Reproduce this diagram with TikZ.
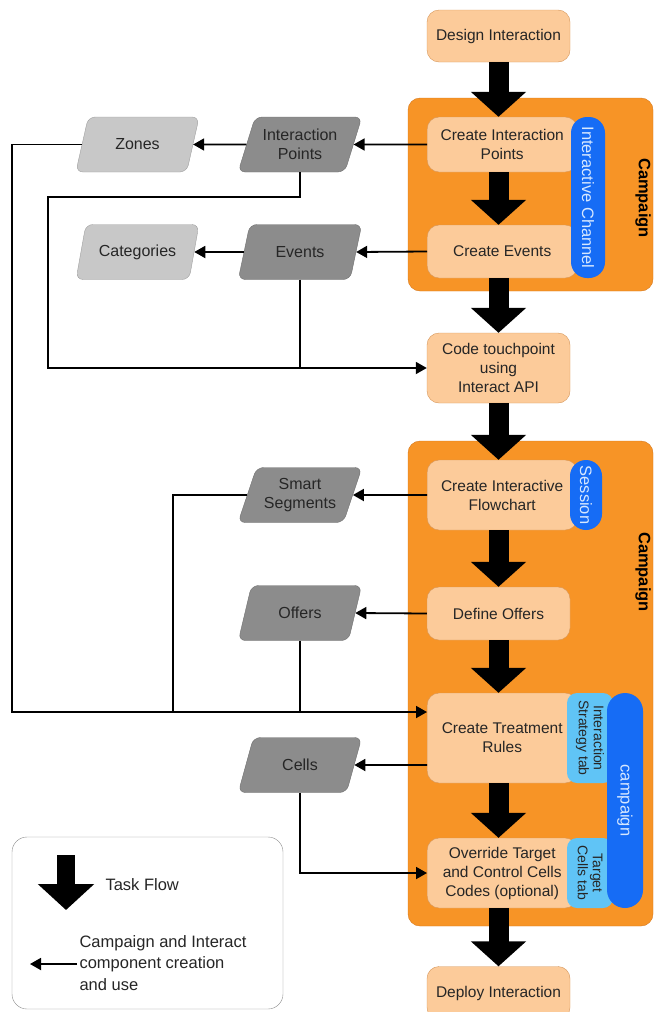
\documentclass[tikz,border=0pt]{standalone}
\usepackage{fontspec}
\setmainfont{Liberation Sans}
\usetikzlibrary{arrows.meta,shapes,positioning,calc}
\definecolor{camporange}{RGB}{247,148,38}
\definecolor{campedge}{RGB}{214,120,30}
\definecolor{peach}{RGB}{252,203,154}
\definecolor{peachedge}{RGB}{214,150,90}
\definecolor{chanblue}{RGB}{22,108,245}
\definecolor{tabblue}{RGB}{96,196,246}
\definecolor{darkgrey}{RGB}{140,140,140}
\definecolor{lightgrey}{RGB}{200,200,200}
\tikzset{
    task/.style={line width=20pt, -{Triangle[length=25pt, width=54pt]}, black},
    link/.style={-{Triangle[length=11pt, width=12pt]}, line width=1.8pt, black},
    wire/.style={line width=1.8pt, black},
    campbox/.style={draw=campedge, fill=camporange, rounded corners=12pt},
    camplabel/.style={font=\bfseries\fontsize{16.5pt}{19pt}\selectfont, rotate=-90},
    stage/.style={draw=peachedge, fill=peach, rounded corners=12pt, align=center,
        minimum width=143pt, text=black!85, font=\fontsize{15.5pt}{19pt}\selectfont},
    pill/.style={fill=chanblue, rounded corners=16pt, rotate=-90, inner sep=0pt,
        text={rgb,255:red,215;green,232;blue,255}, font=\fontsize{16.5pt}{19pt}\selectfont},
    tab/.style={fill=tabblue, rounded corners=10pt, rotate=-90, inner sep=0pt, align=center,
        text=black!85, font=\fontsize{14pt}{15pt}\selectfont},
    comp/.style={trapezium, trapezium left angle=66, trapezium right angle=114,
        trapezium stretches=true, minimum width=124pt, minimum height=55pt, inner sep=1pt,
        rounded corners=7pt, fill=darkgrey, draw=darkgrey!80!black, align=center,
        text=black!85, font=\fontsize{16pt}{19pt}\selectfont},
    compl/.style={comp, fill=lightgrey, draw=lightgrey!80!black},
    legend/.style={draw=black!45, rounded corners=15pt, fill=white}
}

\begin{document}
\begin{tikzpicture}[x=1pt, y=-1pt]
    \useasboundingbox (0,0) rectangle (655,1012);

    % Campaign containers
    \node[campbox, minimum width=245pt, minimum height=193pt] (camp1) at (530.5,194.5) {};
    \node[camplabel] (camp1lbl) at (643,198) {Campaign};
    \node[campbox, minimum width=245pt, minimum height=485pt] (camp2) at (530.5,683.5) {};
    \node[camplabel] (camp2lbl) at (643,572) {Campaign};

    % Task steps
    \node[stage, minimum height=52pt] (design) at (498.5,36) {Design Interaction};
    \node[stage, minimum height=55pt, minimum width=150pt, anchor=west] (cip) at (427,144.5) {Create Interaction\\Points};
    \node[stage, minimum height=53pt, minimum width=150pt, anchor=west] (ce) at (427,251.5) {Create Events};
    \node[stage, minimum height=70pt] (ctp) at (498.5,368) {Code touchpoint\\using\\Interact API};
    \node[stage, minimum height=70pt, minimum width=150pt, anchor=west] (cif) at (427,495) {Create Interactive\\Flowchart};
    \node[stage, minimum height=53pt] (do) at (498.5,613.5) {Define Offers};
    \node[stage, minimum height=90pt, minimum width=150pt, anchor=west] (ctr) at (427,738) {Create Treatment\\Rules};
    \node[stage, minimum height=70pt, minimum width=150pt, anchor=west] (ovr) at (427,873) {Override Target\\and Control Cells\\Codes (optional)};
    \node[stage, minimum height=53pt] (deploy) at (498.5,993) {Deploy Interaction};

    % Tabs
    \node[pill, minimum width=161pt, minimum height=34pt] (chan) at (588,197.5) {Interactive Channel};
    \node[pill, minimum width=70pt, minimum height=32pt] (sess) at (586,495) {Session};
    \node[tab, minimum width=90pt, minimum height=46pt] (strat) at (590,738) {Interaction\\Strategy tab};
    \node[tab, minimum width=70pt, minimum height=46pt] (tcell) at (590,873) {Target\\Cells tab};
    \node[pill, minimum width=215pt, minimum height=36pt, rounded corners=18pt] (campt) at (625,800.5) {campaign};

    % Components
    \node[compl] (zones) at (137.5,144.5) {Zones};
    \node[comp] (ip) at (300,144.5) {Interaction\\Points};
    \node[compl] (cat) at (137.5,252) {Categories};
    \node[comp] (ev) at (300,252) {Events};
    \node[comp] (ss) at (300,495) {Smart\\Segments};
    \node[comp] (of) at (300,613) {Offers};
    \node[comp] (cells) at (300,765) {Cells};

    \coordinate (lft) at (12,0);
    \coordinate (lft2) at (48,0);
    \coordinate (lft3) at (173,0);
    \coordinate (trin) at ([yshift=26pt]ctr.west);

    % Task flow
    \draw[task] (design.south) -- (design.south |- cip.north);
    \draw[task] (design.south |- cip.south) -- (design.south |- ce.north);
    \draw[task] (design.south |- ce.south) -- (ctp.north);
    \draw[task] (ctp.south) -- (ctp.south |- cif.north);
    \draw[task] (ctp.south |- cif.south) -- (do.north);
    \draw[task] (do.south) -- (do.south |- ctr.north);
    \draw[task] (do.south |- ctr.south) -- (do.south |- ovr.north);
    \draw[task] (do.south |- ovr.south) -- (deploy.north);

    % Component creation and use
    \draw[link] (cip.west) -- (ip.east);
    \draw[link] (ip.west) -- (zones.east);
    \draw[link] (ce.west) -- (ev.east);
    \draw[link] (ev.west) -- (cat.east);
    \draw[link] (zones.west) -- (zones.west -| lft) |- (trin);
    \draw[link] (ip.south) -- ++(0,25) -| (lft2 |- ctp.west) -- (ctp.west);
    \draw[wire] (ev.south) -- (ev.south |- ctp.west);
    \draw[link] (cif.west) -- (ss.east);
    \draw[wire] (ss.west) -| (lft3 |- trin);
    \draw[link] (do.west) -- (of.east);
    \draw[wire] (of.south) -- (of.south |- trin);
    \draw[link] ([yshift=-27pt]ctr.west) -- (cells.east);
    \draw[link] (cells.south) |- (ovr.west);

    % Legend
    \node[legend, minimum width=271pt, minimum height=172pt] (leg) at (147.5,923) {};
    \coordinate (tf1) at (66,855);
    \coordinate (tf2) at (66,910);
    \draw[task, line width=18pt, -{Triangle[length=26pt, width=55pt]}] (tf1) -- (tf2);
    \node[anchor=west, font=\fontsize{16.5pt}{21.5pt}\selectfont, text=black!85] (tflbl) at (102,885) {Task Flow};
    \coordinate (ci1) at (77,964);
    \coordinate (ci2) at (30,964);
    \draw[link] (ci1) -- (ci2);
    \node[anchor=west, align=left, font=\fontsize{16.5pt}{21.5pt}\selectfont, text=black!85] (cilbl) at (76,963) {Campaign and Interact\\component creation\\and use};
\end{tikzpicture}
\end{document}
